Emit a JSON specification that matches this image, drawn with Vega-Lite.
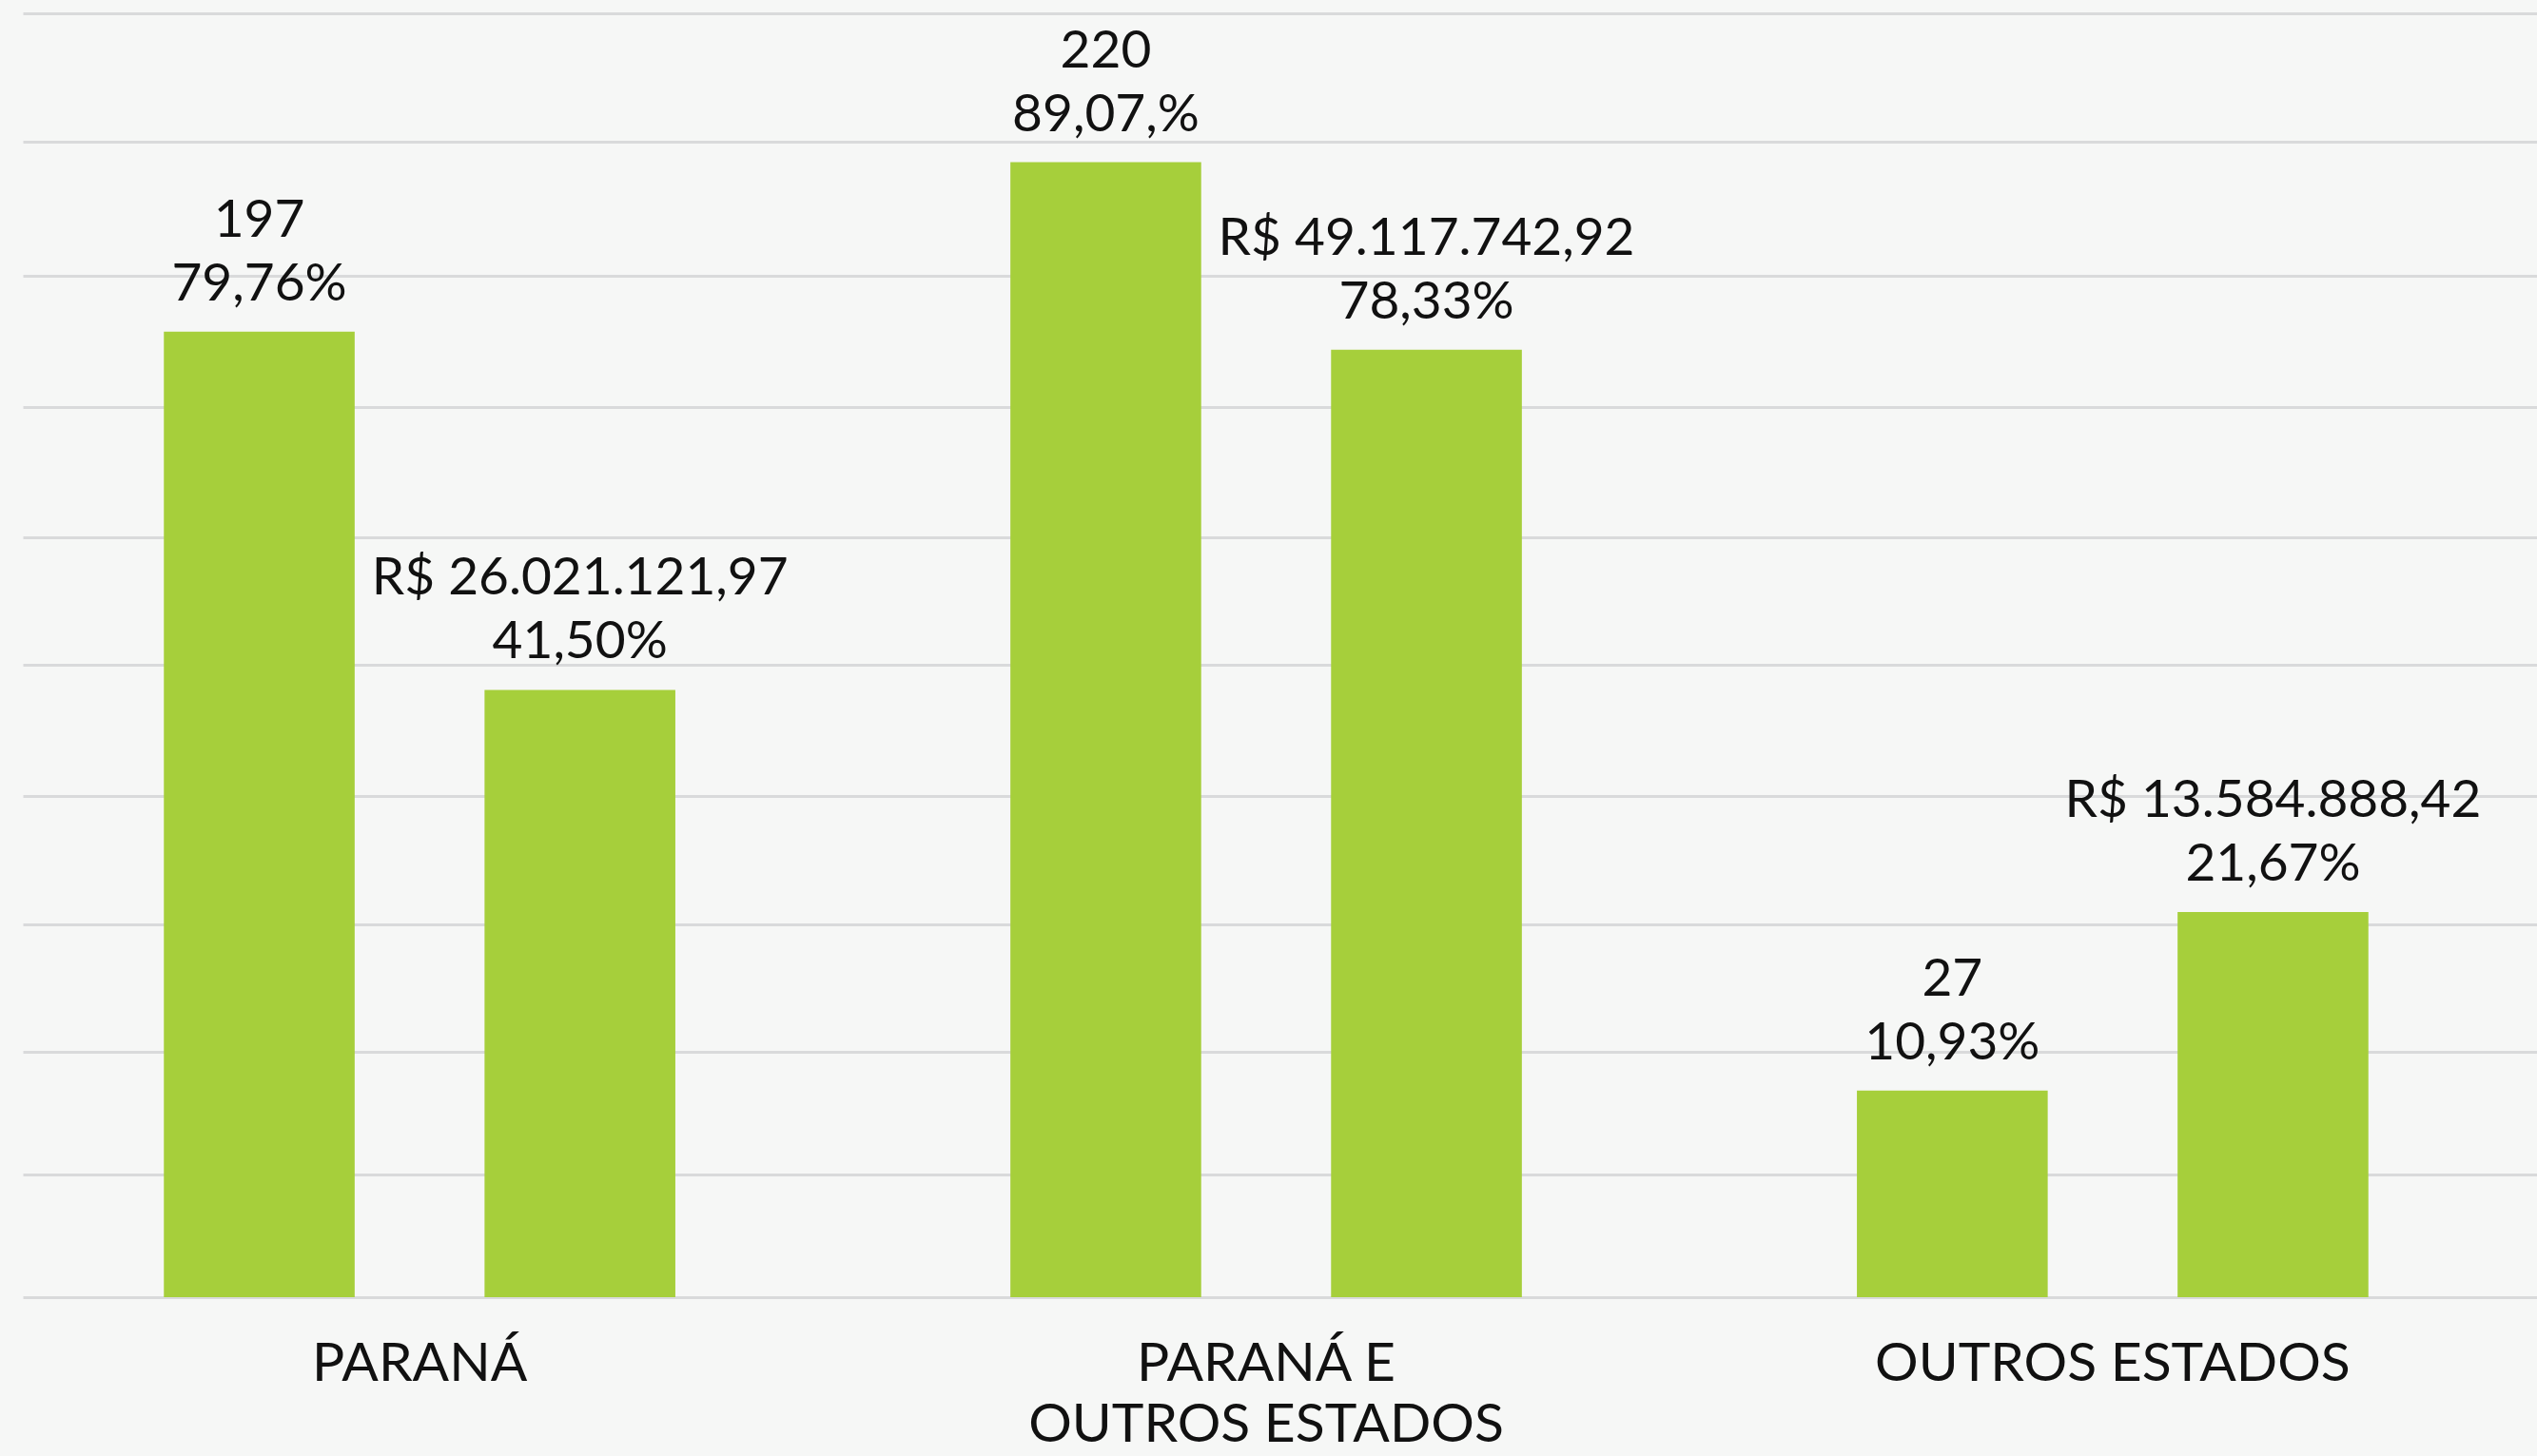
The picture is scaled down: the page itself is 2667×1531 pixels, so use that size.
{
  "$schema": "https://vega.github.io/schema/vega-lite/v6.json",
  "width": 2643,
  "height": 1350,
  "autosize": "none",
  "padding": {"left": 24, "top": 14, "right": 0, "bottom": 167},
  "background": "#f6f7f6",
  "config": {"view": {"stroke": null}, "font": "Lato"},
  "data": {
    "values": [
      {"grupo": "PARANÁ", "serie": "Quantidade", "altura": 7.52, "rotulo": "197\n79,76%"},
      {"grupo": "PARANÁ", "serie": "Valor", "altura": 4.73, "rotulo": "R$ 26.021.121,97\n41,50%"},
      {"grupo": "PARANÁ E|OUTROS ESTADOS", "serie": "Quantidade", "altura": 8.84, "rotulo": "220\n89,07,%"},
      {"grupo": "PARANÁ E|OUTROS ESTADOS", "serie": "Valor", "altura": 7.38, "rotulo": "R$ 49.117.742,92\n78,33%"},
      {"grupo": "OUTROS ESTADOS", "serie": "Quantidade", "altura": 1.61, "rotulo": "27\n10,93%"},
      {"grupo": "OUTROS ESTADOS", "serie": "Valor", "altura": 3.0, "rotulo": "R$ 13.584.888,42\n21,67%"}
    ]
  },
  "encoding": {
    "x": {
      "field": "grupo",
      "type": "nominal",
      "sort": null,
      "scale": {"paddingInner": 0.392, "paddingOuter": 0.181, "align": 0.455},
      "axis": {
        "title": null,
        "labelAngle": 0,
        "domain": false,
        "ticks": false,
        "tickSize": 0,
        "labelPadding": 42,
        "labelBaseline": "top",
        "labelFontSize": 57,
        "labelColor": "#111111",
        "labelFont": "Lato",
        "labelExpr": "split(datum.label, '|')",
        "labelLineHeight": 64,
        "labelLimit": 2000,
        "labelOverlap": false
      }
    },
    "xOffset": {"field": "serie", "type": "nominal", "scale": {"paddingInner": 0.405, "paddingOuter": 0.005}},
    "y": {
      "field": "altura",
      "type": "quantitative",
      "scale": {"domain": [0, 10]},
      "axis": {
        "title": null,
        "labels": false,
        "ticks": false,
        "domain": false,
        "grid": true,
        "values": [0, 0.954, 1.908, 2.906, 3.904, 4.925, 5.917, 6.937, 7.957, 8.998, 10],
        "gridColor": "#d9dadb",
        "gridWidth": 3
      }
    }
  },
  "layer": [
    {"mark": {"type": "bar", "color": "#a6cf3b"}},
    {
      "mark": {"type": "text", "lineBreak": "\n", "baseline": "alphabetic", "dy": -100, "fontSize": 55, "lineHeight": 67, "color": "#111111"},
      "encoding": {"text": {"field": "rotulo"}}
    }
  ]
}
